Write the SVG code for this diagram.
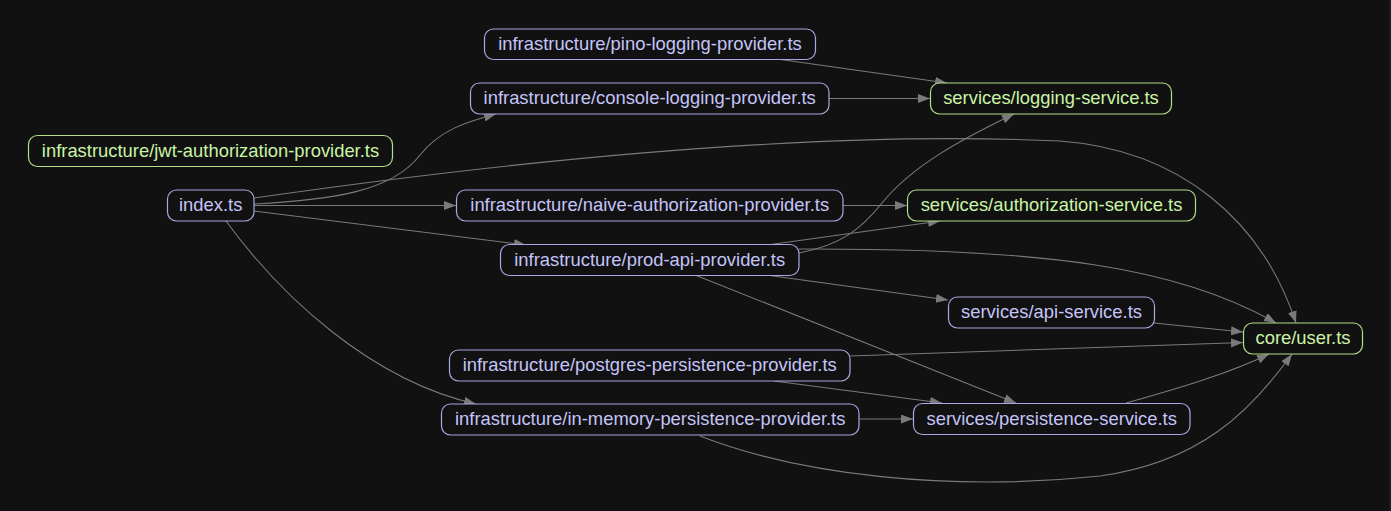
<svg xmlns="http://www.w3.org/2000/svg" width="1391" height="511" viewBox="0 0 1391 511">
<style>
.bg{fill:#111111}
.n rect{fill:#111111;stroke-width:1.2}
.n text{font-family:"Liberation Sans",Arial,sans-serif;font-size:18.4px;text-anchor:middle}
.p rect{stroke:#a8a8e2}
.p text{fill:#c4c4f8}
.g rect{stroke:#b2e08a}
.g text{fill:#caf4a6}
#edges path{fill:none;stroke:#7a7a7a;stroke-width:1.1;marker-end:url(#ah)}
</style>
<defs>
<marker id="ah" markerUnits="userSpaceOnUse" markerWidth="13" markerHeight="10" refX="12" refY="4.5" orient="auto">
<path d="M0,0 L12,4.5 L0,9 z" fill="#7a7a7a"/>
</marker>
</defs>
<rect class="bg" x="0" y="0" width="1391" height="511"/>
<rect x="1389" y="0" width="2" height="511" fill="#1c1c1c"/>
<g id="edges">
<path d="M777,59 L947,83"/>
<path d="M829,98.5 L930,98.5"/>
<path d="M254,204 C330,200 392,192 420,155 C440,130 466,122 496,114"/>
<path d="M254,198 C520,160 820,130 1060,141 C1180,150 1262,220 1296,323"/>
<path d="M254,205.5 L456,205.5"/>
<path d="M254,211 L526,245"/>
<path d="M226,221 C280,295 370,380 476,404"/>
<path d="M843,205.5 L907,205.5"/>
<path d="M767,245 L940,221"/>
<path d="M799,253 C842,245 862,228 882,203 C912,166 960,140 1014,114"/>
<path d="M799,249 C1050,248 1180,268 1276,323"/>
<path d="M766,275 L948,300"/>
<path d="M695,275 L1016,403"/>
<path d="M1154,323 L1243,332"/>
<path d="M850,356 L1243,342.5"/>
<path d="M774,381 L942,403"/>
<path d="M859,419 L913,419"/>
<path d="M1126,403 C1180,388 1230,373 1269,354"/>
<path d="M700,436 C800,475 950,492 1100,476 C1200,462 1250,412 1292,354"/>
</g>
<g id="pino" class="n p"><rect x="484.5" y="29" width="331" height="30.5" rx="9"/><text x="650" y="50">infrastructure/pino-logging-provider.ts</text></g>
<g id="console" class="n p"><rect x="470.5" y="83" width="358.5" height="31" rx="9"/><text x="649.7" y="104">infrastructure/console-logging-provider.ts</text></g>
<g id="logging-service" class="n g"><rect x="930.5" y="83" width="241" height="31" rx="9"/><text x="1051" y="104">services/logging-service.ts</text></g>
<g id="jwt" class="n g"><rect x="28.5" y="135.5" width="364" height="31" rx="9"/><text x="210.5" y="156.5">infrastructure/jwt-authorization-provider.ts</text></g>
<g id="index" class="n p"><rect x="167.5" y="190" width="86.5" height="31" rx="9"/><text x="210.7" y="211">index.ts</text></g>
<g id="naive" class="n p"><rect x="456.5" y="190" width="386.5" height="31" rx="9"/><text x="649.7" y="211">infrastructure/naive-authorization-provider.ts</text></g>
<g id="authorization-service" class="n g"><rect x="907.5" y="190" width="288" height="31" rx="9"/><text x="1051.5" y="211">services/authorization-service.ts</text></g>
<g id="prod-api" class="n p"><rect x="500.5" y="244.5" width="298.5" height="31" rx="9"/><text x="649.7" y="265.5">infrastructure/prod-api-provider.ts</text></g>
<g id="api-service" class="n p"><rect x="948.5" y="297" width="206" height="31" rx="9"/><text x="1051.5" y="318">services/api-service.ts</text></g>
<g id="core-user" class="n g"><rect x="1243.5" y="323" width="119" height="31" rx="9"/><text x="1303" y="344">core/user.ts</text></g>
<g id="postgres" class="n p"><rect x="449.5" y="350" width="400.5" height="31" rx="9"/><text x="649.7" y="371">infrastructure/postgres-persistence-provider.ts</text></g>
<g id="in-memory" class="n p"><rect x="441.5" y="404" width="417.5" height="31" rx="9"/><text x="650.2" y="425">infrastructure/in-memory-persistence-provider.ts</text></g>
<g id="persistence-service" class="n p"><rect x="913.5" y="403.5" width="276.5" height="31" rx="9"/><text x="1051.7" y="424.5">services/persistence-service.ts</text></g>
</svg>
